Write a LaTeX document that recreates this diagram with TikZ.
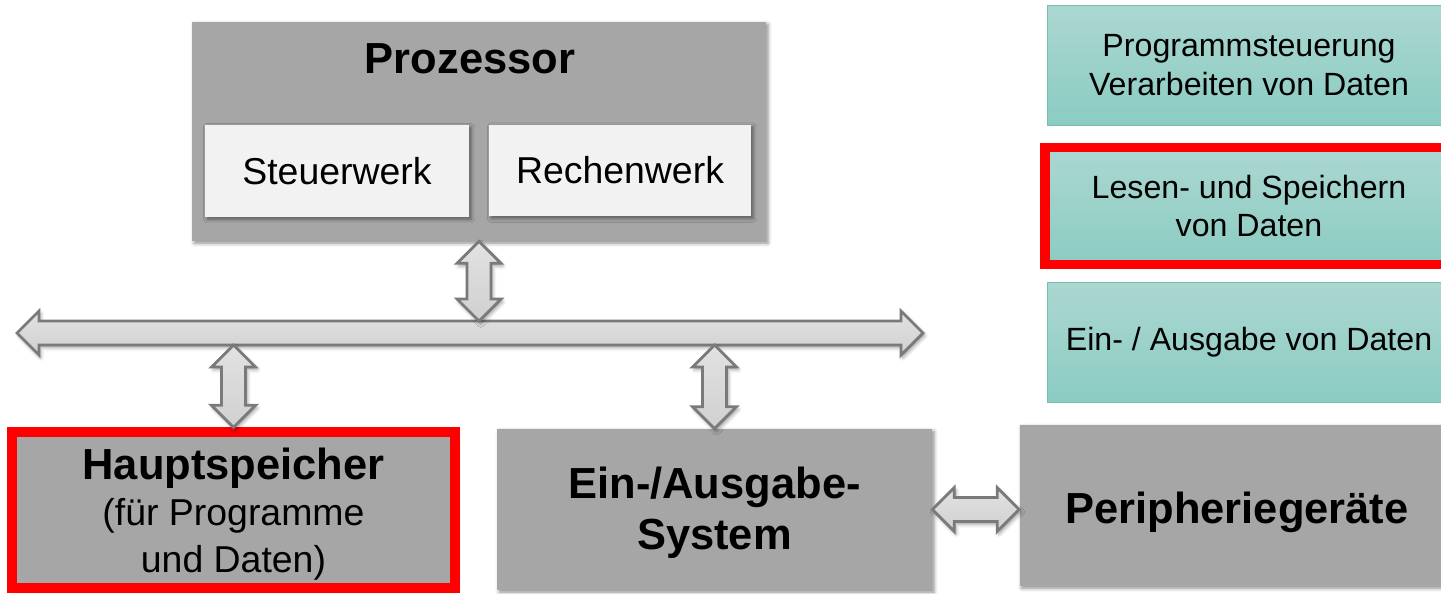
\documentclass[tikz,border=0pt]{standalone}
\usepackage{fontspec}
\setmainfont{Liberation Sans}
\usetikzlibrary{calc,shadows.blur}

\definecolor{boxgray}{HTML}{A6A6A6}
\definecolor{unitgray}{HTML}{F2F2F2}
\definecolor{tealtop}{HTML}{ABD7D1}
\definecolor{tealbot}{HTML}{8BCCC2}
\definecolor{tealline}{HTML}{7BBDB2}
\definecolor{arrowline}{HTML}{7A7A7A}
\definecolor{arrowtop}{HTML}{E2E2E2}
\definecolor{arrowbot}{HTML}{D0D0D0}

% block double arrows, head 22px, shaft 24px
\newcommand{\vdarrow}[2]{%
  \draw[blockarrow] let \p1=(#1), \p2=(#2) in
    (\p1) -- ++(0.44cm,-0.44cm) -- ++(-0.2cm,0) -- (\x1+0.24cm,\y2+0.44cm)
    -- ++(0.2cm,0) -- (\x1,\y2) -- ++(-0.44cm,0.44cm) -- ++(0.2cm,0)
    -- (\x1-0.24cm,\y1-0.44cm) -- ++(-0.2cm,0) -- cycle;}
\newcommand{\hdarrow}[2]{%
  \draw[blockarrow] let \p1=(#1), \p2=(#2) in
    (\p1) -- ++(0.44cm,0.44cm) -- ++(0,-0.2cm) -- (\x2-0.44cm,\y1+0.24cm)
    -- ++(0,0.2cm) -- (\x2,\y1) -- ++(-0.44cm,-0.44cm) -- ++(0,0.2cm)
    -- (\x1+0.44cm,\y1-0.24cm) -- ++(0,-0.2cm) -- cycle;}

\begin{document}
\begin{tikzpicture}[x=0.02cm,y=-0.02cm,
    hwblock/.style={rectangle, fill=boxgray,
        blur shadow={shadow xshift=1.2pt, shadow yshift=-1.2pt, shadow opacity=45}},
    hwtext/.style={align=center, font=\fontsize{24.75}{29}\selectfont\bfseries},
    unit/.style={rectangle, fill=unitgray, minimum height=1.84cm,
        font=\fontsize{21.3}{26}\selectfont,
        blur shadow={shadow xshift=1.2pt, shadow yshift=-1.2pt, shadow opacity=45}},
    infobox/.style={rectangle, draw=tealline, top color=tealtop, bottom color=tealbot,
        minimum width=8.08cm, minimum height=2.4cm, align=center,
        font=\fontsize{18.3}{22}\selectfont},
    marked/.style={draw=red, line width=1.9mm},
    blockarrow/.style={draw=arrowline, line width=1.6pt, line join=miter,
        top color=arrowtop, bottom color=arrowbot,
        blur shadow={shadow xshift=1pt, shadow yshift=-1.5pt, shadow opacity=40}}]
    \useasboundingbox (0,0) rectangle (1441,593);

    % Prozessor
    \node[hwblock, minimum width=11.48cm, minimum height=4.38cm] (proz) at (479,131.5) {};
    \node[hwtext, anchor=base] (proztitle) at (470,73) {Prozessor};
    \node[unit, minimum width=5.28cm] (stw) at (337,171) {Steuerwerk};
    \node[unit, minimum width=5.24cm] (rkw) at (620,170.5) {Rechenwerk};

    % untere Reihe
    \node[hwblock, marked, minimum width=8.86cm, minimum height=3.12cm] (hs) at (233.5,510) {};
    \node[align=center, font=\fontsize{21.3}{26.7}\selectfont] (hstext) at ([yshift=-2.3pt]hs.center)
        {{\fontsize{24.75}{26.7}\selectfont\bfseries Hauptspeicher}\\(für Programme\\und Daten)};
    \node[hwblock, minimum width=8.7cm, minimum height=3.22cm] (ea) at (714.5,509.5) {};
    \node[hwtext] (eatext) at ([yshift=-1.7pt]ea.center) {Ein-/Ausgabe-\\System};
    \node[hwblock, minimum width=8.7cm, minimum height=3.22cm] (per) at (1237,505.5) {};
    \node[hwtext] (pertext) at ([yshift=-4pt]per.center) {Peripheriegeräte};

    % Funktionen
    \node[infobox] (fkt1) at (1249,65) {Programmsteuerung\\Verarbeiten von Daten};
    \node[infobox, marked, minimum width=8.16cm, minimum height=2.34cm] (fkt2) at (1249,206)
        {Lesen- und Speichern\\von Daten};
    \node[infobox] (fkt3) at (1249,342) {Ein- / Ausgabe von Daten};

    % Bus
    \coordinate (busL) at (17,333);
    \coordinate (busR) at (923,333);
    \coordinate (busT) at (470,321);
    \coordinate (busB) at (470,345);
    \hdarrow{busL}{busR}
    \vdarrow{proz.south}{proz.south |- busT}
    \vdarrow{hs.north |- busB}{hs.north}
    \vdarrow{ea.north |- busB}{ea.north}
    \hdarrow{ea.east}{ea.east -| per.west}
\end{tikzpicture}
\end{document}
